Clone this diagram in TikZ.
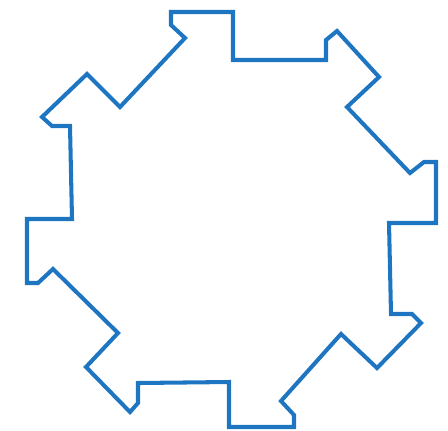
\documentclass[tikz,border=0pt]{standalone}
\definecolor{gearblue}{RGB}{30,118,195}
\begin{document}
\begin{tikzpicture}[x=0.02cm,y=-0.02cm,gear/.style={draw=gearblue,line width=2.3pt,line join=miter}]
\useasboundingbox (0,0) rectangle (448,430);
\draw[gear] (171,12) -- (233,12) -- (233,60) -- (326,60) -- (326,40) -- (337,31)
 -- (379,77) -- (347,107) -- (410,173) -- (424,162) -- (436,162) -- (436,223)
 -- (389,223) -- (391,314) -- (412,314) -- (421,323) -- (377,368) -- (341,334)
 -- (281,401) -- (294,415) -- (294,427) -- (229,427) -- (229,382) -- (138,383)
 -- (138,403) -- (130,412) -- (86,367) -- (118,333) -- (53,269) -- (38,283)
 -- (27,283) -- (27,219) -- (72,219) -- (70,126) -- (52,126) -- (42,117)
 -- (87,74) -- (120,107) -- (185,38) -- (171,25) -- cycle;
\end{tikzpicture}
\end{document}
